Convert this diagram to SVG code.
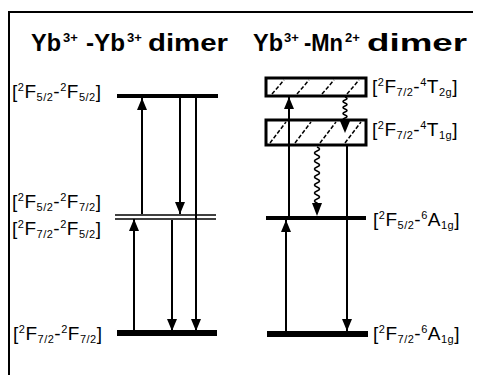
<svg xmlns="http://www.w3.org/2000/svg" width="478" height="375" viewBox="0 0 478 375">
<style>
.t{font-family:"Liberation Sans",Arial,sans-serif;font-weight:bold;font-size:23px;fill:#000}
.ts{font-family:"Liberation Sans",Arial,sans-serif;font-weight:bold;font-size:13px;fill:#000}
.lb{font-family:"Liberation Sans",Arial,sans-serif;font-size:19px;fill:#000;letter-spacing:0.5px}
.s{font-size:11px}
.lv{stroke:#000;fill:none}
.ar{stroke:#000;stroke-width:2;fill:none}
.up{marker-end:url(#ah)}
.box{fill:#fff;stroke:#000;stroke-width:3}
.h{stroke:#000;stroke-width:1.5;stroke-dasharray:4 2}
.wv{stroke:#000;stroke-width:1.6;fill:none}
</style>
<defs>
<marker id="ah" viewBox="0 0 12 10" refX="12" refY="5" markerWidth="12" markerHeight="10" markerUnits="userSpaceOnUse" orient="auto">
<path d="M0,0 L12,5 L0,10 z" fill="#000"/>
</marker>
</defs>
<rect width="478" height="375" fill="#fff"/>
<path d="M9,375 V12 H473" stroke="#000" stroke-width="2" fill="none"/>

<g id="title-left">
<text class="t" x="31" y="51" textLength="30" lengthAdjust="spacingAndGlyphs">Yb</text>
<text class="ts" x="63" y="42">3+</text>
<text class="t" x="86" y="51" textLength="39" lengthAdjust="spacingAndGlyphs">-Yb</text>
<text class="ts" x="127" y="42">3+</text>
<text class="t" x="148" y="51" textLength="80" lengthAdjust="spacingAndGlyphs">dimer</text>
</g>
<g id="title-right">
<text class="t" x="253" y="51" textLength="30" lengthAdjust="spacingAndGlyphs">Yb</text>
<text class="ts" x="284" y="42">3+</text>
<text class="t" x="304" y="51" textLength="39" lengthAdjust="spacingAndGlyphs">-Mn</text>
<text class="ts" x="345" y="42">2+</text>
<text class="t" x="367" y="51" textLength="100" lengthAdjust="spacingAndGlyphs">dimer</text>
</g>

<g id="yy-55">
<line class="lv" x1="117" y1="96" x2="218" y2="96" stroke-width="4"/>
<text class="lb" x="12" y="98">[<tspan class="s" dy="-7">2</tspan><tspan dy="7">F</tspan><tspan class="s" dy="3">5/2</tspan><tspan dy="-3">-</tspan><tspan class="s" dy="-7">2</tspan><tspan dy="7">F</tspan><tspan class="s" dy="3">5/2</tspan><tspan dy="-3">]</tspan></text>
</g>
<g id="yy-mid">
<line class="lv" x1="115" y1="215" x2="216" y2="215" stroke-width="1.5"/>
<line class="lv" x1="115" y1="219" x2="216" y2="219" stroke-width="1.5"/>
<text class="lb" x="12" y="208">[<tspan class="s" dy="-7">2</tspan><tspan dy="7">F</tspan><tspan class="s" dy="3">5/2</tspan><tspan dy="-3">-</tspan><tspan class="s" dy="-7">2</tspan><tspan dy="7">F</tspan><tspan class="s" dy="3">7/2</tspan><tspan dy="-3">]</tspan></text>
<text class="lb" x="12" y="235">[<tspan class="s" dy="-7">2</tspan><tspan dy="7">F</tspan><tspan class="s" dy="3">7/2</tspan><tspan dy="-3">-</tspan><tspan class="s" dy="-7">2</tspan><tspan dy="7">F</tspan><tspan class="s" dy="3">5/2</tspan><tspan dy="-3">]</tspan></text>
</g>
<g id="yy-77">
<line class="lv" x1="117" y1="333" x2="217" y2="333" stroke-width="6"/>
<text class="lb" x="13" y="340">[<tspan class="s" dy="-7">2</tspan><tspan dy="7">F</tspan><tspan class="s" dy="3">7/2</tspan><tspan dy="-3">-</tspan><tspan class="s" dy="-7">2</tspan><tspan dy="7">F</tspan><tspan class="s" dy="3">7/2</tspan><tspan dy="-3">]</tspan></text>
</g>

<g id="ym-t2g">
<rect class="box" x="266" y="78" width="100" height="18"/>
<line class="h" x1="272" y1="94" x2="284" y2="80"/>
<line class="h" x1="297" y1="94" x2="309" y2="80"/>
<line class="h" x1="322" y1="94" x2="334" y2="80"/>
<line class="h" x1="347" y1="94" x2="359" y2="80"/>
<text class="lb" x="372" y="93">[<tspan class="s" dy="-7">2</tspan><tspan dy="7">F</tspan><tspan class="s" dy="3">7/2</tspan><tspan dy="-3">-</tspan><tspan class="s" dy="-7">4</tspan><tspan dy="7">T</tspan><tspan class="s" dy="3">2g</tspan><tspan dy="-3">]</tspan></text>
</g>
<g id="ym-t1g">
<rect class="box" x="266" y="120" width="100" height="25"/>
<line class="h" x1="270" y1="143" x2="286" y2="122"/>
<line class="h" x1="295" y1="143" x2="311" y2="122"/>
<line class="h" x1="320" y1="143" x2="336" y2="122"/>
<line class="h" x1="345" y1="143" x2="361" y2="122"/>
<text class="lb" x="372" y="136">[<tspan class="s" dy="-7">2</tspan><tspan dy="7">F</tspan><tspan class="s" dy="3">7/2</tspan><tspan dy="-3">-</tspan><tspan class="s" dy="-7">4</tspan><tspan dy="7">T</tspan><tspan class="s" dy="3">1g</tspan><tspan dy="-3">]</tspan></text>
</g>
<g id="ym-a1g-ex">
<line class="lv" x1="266" y1="218" x2="366" y2="218" stroke-width="4"/>
<text class="lb" x="373" y="226">[<tspan class="s" dy="-7">2</tspan><tspan dy="7">F</tspan><tspan class="s" dy="3">5/2</tspan><tspan dy="-3">-</tspan><tspan class="s" dy="-7">6</tspan><tspan dy="7">A</tspan><tspan class="s" dy="3">1g</tspan><tspan dy="-3">]</tspan></text>
</g>
<g id="ym-a1g-gs">
<line class="lv" x1="267" y1="334" x2="368" y2="334" stroke-width="6"/>
<text class="lb" x="373" y="340">[<tspan class="s" dy="-7">2</tspan><tspan dy="7">F</tspan><tspan class="s" dy="3">7/2</tspan><tspan dy="-3">-</tspan><tspan class="s" dy="-7">6</tspan><tspan dy="7">A</tspan><tspan class="s" dy="3">1g</tspan><tspan dy="-3">]</tspan></text>
</g>

<g id="connectors">
<line class="ar up" x1="134" y1="331" x2="134" y2="219"/>
<line class="ar up" x1="142" y1="214" x2="142" y2="98"/>
<line class="ar up" x1="180" y1="98" x2="180" y2="214"/>
<line class="ar up" x1="172" y1="220" x2="172" y2="331"/>
<line class="ar up" x1="196" y1="98" x2="196" y2="331"/>
<line class="ar up" x1="289" y1="216" x2="289" y2="97"/>
<line class="ar up" x1="286" y1="332" x2="286" y2="220"/>
<line class="ar up" x1="347" y1="146" x2="347" y2="331"/>
<path class="wv" d="M345,97 q4,1.5 0,3 q-4,1.5 0,3 q4,1.5 0,3 q-4,1.5 0,3 q4,1.5 0,3 q-4,1.5 0,3 q4,1.5 0,3 q-4,1.5 0,3 L345,122"/>
<path d="M340,121 L350,121 L345,133 z" fill="#000"/>
<path class="wv" d="M317,147 q5,2 0,4 q-5,2 0,4 q5,2 0,4 q-5,2 0,4 q5,2 0,4 q-5,2 0,4 q5,2 0,4 q-5,2 0,4 q5,2 0,4 q-5,2 0,4 q5,2 0,4 q-5,2 0,4 q5,2 0,4 q-5,2 0,4 L317,204"/>
<path d="M312,203 L322,203 L317,216 z" fill="#000"/>
</g>
</svg>
